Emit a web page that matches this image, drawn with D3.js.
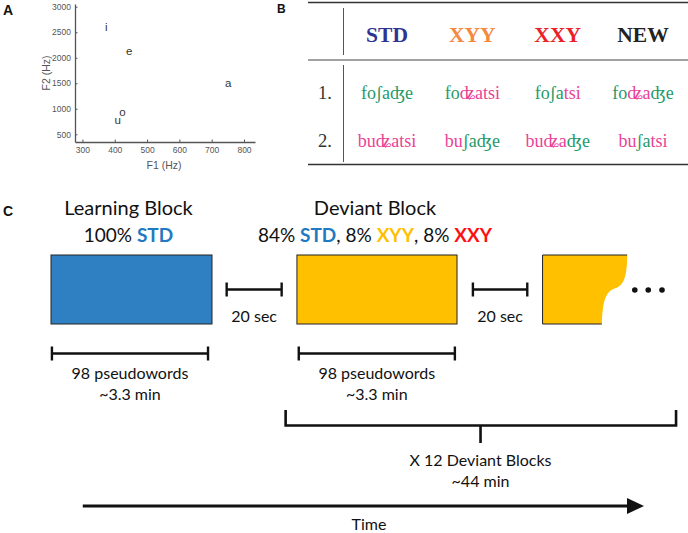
<!DOCTYPE html>
<html><head><meta charset="utf-8">
<script src="https://cdn.jsdelivr.net/npm/d3@7/dist/d3.min.js"></script>
<style>body{margin:0;background:#fff}svg{display:block}</style>
</head><body><svg id="fig" width="688" height="533"></svg>
<script>
// ---------- Panel A data ----------
const vowels = ["i", "e", "a", "o", "u"];
const F1 = [370, 435, 741, 414, 399];
const F2 = [2608, 2132, 1500, 935, 780];
const f1Ticks = [300, 400, 500, 600, 700, 800];
const f2Ticks = [500, 1000, 1500, 2000, 2500, 3000];

// ---------- Panel B data ----------
const conditions = ["STD", "XYY", "XXY", "NEW"];
const rowLabels = ["1.", "2."];
const greenSyll = ["fo", "ʃa", "ʤe"];
const pinkSyll = ["bu", "ʥa", "tsi"];
const row1 = [["fo","ʃa","ʤe"], ["fo","ʥa","tsi"], ["fo","ʃa","tsi"], ["fo","ʥa","ʤe"]];
const row2 = [["bu","ʥa","tsi"], ["bu","ʃa","ʤe"], ["bu","ʥa","ʤe"], ["bu","ʃa","tsi"]];

// ---------- Panel C data ----------
const blockNames = ["Learning Block", "Deviant Block"];
const learningMix = [["100% ", null], ["STD", "STD"]];
const deviantMix = [["84% ", null], ["STD", "STD"], [", 8% ", null], ["XYY", "XYY"], [", 8% ", null], ["XXY", "XXY"]];
const pseudowords = ["98 pseudowords", "98 pseudowords"];
const blockDur = ["~3.3 min", "~3.3 min"];
const gapLabel = ["20 sec", "20 sec"];
const repeatLabel = ["X 12 Deviant Blocks", "~44 min"];
const timeLabel = "Time";

const svg = d3.select("#fig");
const sans = "'Liberation Sans', Arial, sans-serif";
const cal = "Lato, 'Open Sans', sans-serif";
const serif = "'Liberation Serif', 'DejaVu Serif', serif";

// panel letters
[["A", 3, 15, 14], ["B", 277, 13, 12], ["C", 3, 216, 14]].forEach(([t, x, y, s]) => {
  svg.append("text").attr("x", x).attr("y", y).attr("font-family", sans)
    .attr("font-weight", "bold").attr("font-size", s).attr("fill", "#111").text(t);
});

// ---------- Panel A ----------
{
  const x = d3.scaleLinear().domain([277, 834]).range([75, 255]);
  const y = d3.scaleLinear().domain([349, 3053]).range([142, 4]);
  const g = svg.append("g");
  const ax = g.append("g").attr("transform", "translate(0,142)")
    .call(d3.axisBottom(x).tickValues(f1Ticks).tickFormat(d3.format("d")).tickSizeInner(-2.5).tickSizeOuter(0).tickPadding(5));
  const ay = g.append("g").attr("transform", "translate(75,0)")
    .call(d3.axisLeft(y).tickValues(f2Ticks).tickFormat(d3.format("d")).tickSizeInner(-2.5).tickSizeOuter(0).tickPadding(4));
  [ax, ay].forEach(a => {
    a.select(".domain").attr("stroke", "#555").attr("stroke-width", 1.3);
    a.selectAll(".tick line").attr("stroke", "#555");
    a.selectAll(".tick text").attr("fill", "#555").attr("font-size", 8.5).attr("font-family", sans);
  });
  g.append("text").attr("x", 164).attr("y", 169).attr("text-anchor", "middle")
    .attr("font-family", sans).attr("font-size", 10.5).attr("fill", "#555").text("F1 (Hz)");
  g.append("text").attr("transform", "translate(50,73) rotate(-90)").attr("text-anchor", "middle")
    .attr("font-family", sans).attr("font-size", 10.5).attr("fill", "#555").text("F2 (Hz)");
  g.selectAll("text.v").data(vowels).join("text").attr("class", "v")
    .attr("x", (d, i) => x(F1[i])).attr("y", (d, i) => y(F2[i]))
    .attr("dy", "0.35em").attr("font-family", sans).attr("font-size", 11.5).attr("fill", "#333")
    .text(d => d);
}

// ---------- Panel B ----------
{
  const g = svg.append("g");
  const cx = d3.scalePoint().domain(conditions).range([387, 643]);
  const ry = d3.scalePoint().domain(rowLabels).range([99, 147]);
  const headColor = {STD: "#2f3494", XYY: "#f5893f", XXY: "#ea1f2a", NEW: "#222"};
  const green = "#1f9a6a", pink = "#ea4296";
  g.append("line").attr("x1", 308).attr("x2", 688).attr("y1", 2.5).attr("y2", 2.5).attr("stroke", "#333").attr("stroke-width", 1.6);
  g.append("line").attr("x1", 308).attr("x2", 688).attr("y1", 60).attr("y2", 60).attr("stroke", "#444").attr("stroke-width", 1);
  g.append("line").attr("x1", 308).attr("x2", 688).attr("y1", 164.5).attr("y2", 164.5).attr("stroke", "#333").attr("stroke-width", 1.6);
  g.append("line").attr("x1", 343.5).attr("x2", 343.5).attr("y1", 8).attr("y2", 55).attr("stroke", "#555").attr("stroke-width", 1);
  g.append("line").attr("x1", 343.5).attr("x2", 343.5).attr("y1", 65).attr("y2", 162).attr("stroke", "#555").attr("stroke-width", 1);
  g.selectAll("text.h").data(conditions).join("text").attr("class", "h")
    .attr("x", d => cx(d)).attr("y", 42).attr("text-anchor", "middle")
    .attr("font-family", serif).attr("font-weight", "bold").attr("font-size", 21.5)
    .attr("fill", d => headColor[d]).text(d => d);
  g.selectAll("text.r").data(rowLabels).join("text").attr("class", "r")
    .attr("x", 325).attr("y", d => ry(d)).attr("text-anchor", "middle")
    .attr("font-family", serif).attr("font-size", 18.5).attr("fill", "#333").text(d => d);
  [row1, row2].forEach((row, ri) => {
    row.forEach((sy, ci) => {
      const t = g.append("text").attr("x", cx(conditions[ci])).attr("y", ry(rowLabels[ri]))
        .attr("text-anchor", "middle").attr("font-family", serif).attr("font-size", 18);
      sy.forEach(s => t.append("tspan").attr("fill", greenSyll.includes(s) ? green : pink).text(s));
    });
  });
}

// ---------- Panel C ----------
{
  const g = svg.append("g");
  const blue = "#2e80c2", yellow = "#ffc000", red = "#ff1010";
  const mixColor = {STD: "#2179c2", XYY: yellow, XXY: red};
  const x = d3.scaleLinear().domain([0, 100]).range([51, 662]);
  const blocks = [[0, 26.35], [40.25, 66.45]];
  const blockCenters = [128.5, 375];
  const top = 255, bot = 324;

  blockNames.forEach((n, i) => {
    g.append("text").attr("x", blockCenters[i]).attr("y", 215).attr("text-anchor", "middle")
      .attr("font-family", cal).attr("font-size", 20).attr("fill", "#111").text(n);
  });
  [learningMix, deviantMix].forEach((mix, i) => {
    const t = g.append("text").attr("x", blockCenters[i]).attr("y", 242).attr("text-anchor", "middle")
      .attr("font-family", cal).attr("font-size", 19).attr("fill", "#111");
    mix.forEach(([s, c]) => t.append("tspan").attr("font-weight", c ? "bold" : "normal")
      .attr("fill", c ? mixColor[c] : "#111").text(s));
  });

  g.append("rect").attr("x", x(blocks[0][0])).attr("y", top).attr("width", x(blocks[0][1]) - x(blocks[0][0]))
    .attr("height", bot - top).attr("fill", blue).attr("stroke", "#222").attr("stroke-width", 1);
  g.append("rect").attr("x", x(blocks[1][0])).attr("y", top).attr("width", x(blocks[1][1]) - x(blocks[1][0]))
    .attr("height", bot - top).attr("fill", yellow).attr("stroke", "#222").attr("stroke-width", 1);
  const x0 = x(80.45), xr = x(94.3), xb = x(90.15);
  const p = d3.path();
  p.moveTo(x0, top); p.lineTo(xr, top);
  p.bezierCurveTo(xr, top + 20, xr - 3, top + 30, xr - 11, top + 33);
  p.bezierCurveTo(xb + 5, top + 36, xb + 1, top + 42, xb, bot);
  p.lineTo(x0, bot); p.closePath();
  g.append("path").attr("d", p.toString()).attr("fill", yellow);
  g.append("path").attr("d", `M${xr},${top}H${x0}V${bot}H${xb}`).attr("fill", "none").attr("stroke", "#222").attr("stroke-width", 1);
  [95.55, 97.75, 100].forEach(d => g.append("circle").attr("cx", x(d)).attr("cy", 290).attr("r", 2.8).attr("fill", "#111"));

  function bar(x1, x2, y, h) {
    g.append("line").attr("x1", x1).attr("x2", x2).attr("y1", y).attr("y2", y).attr("stroke", "#111").attr("stroke-width", 2.6);
    [x1, x2].forEach(xx => g.append("line").attr("x1", xx).attr("x2", xx).attr("y1", y - h).attr("y2", y + h).attr("stroke", "#111").attr("stroke-width", 2.4));
  }
  const gaps = [[28.75, 37.75], [69.05, 77.95]];
  gaps.forEach((gp, i) => {
    bar(x(gp[0]), x(gp[1]), 289.5, 7);
    g.append("text").attr("x", (x(gp[0]) + x(gp[1])) / 2).attr("y", 322).attr("text-anchor", "middle")
      .attr("font-family", cal).attr("font-size", 16).attr("fill", "#111").text(gapLabel[i]);
  });
  const pw = [[0.15, 25.7], [40.55, 66.1]];
  pw.forEach((b, i) => {
    bar(x(b[0]), x(b[1]), 353.5, 7);
    const c = (x(b[0]) + x(b[1])) / 2;
    g.append("text").attr("x", c).attr("y", 379).attr("text-anchor", "middle")
      .attr("font-family", cal).attr("font-size", 16).attr("fill", "#111").text(pseudowords[i]);
    g.append("text").attr("x", c).attr("y", 400).attr("text-anchor", "middle")
      .attr("font-family", cal).attr("font-size", 16).attr("fill", "#111").text(blockDur[i]);
  });
  const bl = x(38.4), br = x(102.3), bm = x(70.3);
  g.append("path").attr("d", `M${bl},410V425.5H${br}V410M${bm},425.5V443`).attr("fill", "none")
    .attr("stroke", "#111").attr("stroke-width", 2.6);
  g.append("text").attr("x", bm).attr("y", 466).attr("text-anchor", "middle")
    .attr("font-family", cal).attr("font-size", 16).attr("fill", "#111").text(repeatLabel[0]);
  g.append("text").attr("x", bm).attr("y", 487).attr("text-anchor", "middle")
    .attr("font-family", cal).attr("font-size", 16).attr("fill", "#111").text(repeatLabel[1]);
  const ax0 = x(5.2), ax1 = x(97.05);
  g.append("line").attr("x1", ax0).attr("x2", ax1 - 14).attr("y1", 506).attr("y2", 506).attr("stroke", "#111").attr("stroke-width", 3);
  g.append("path").attr("d", `M${ax1},506L${ax1 - 17},498L${ax1 - 17},514Z`).attr("fill", "#111");
  g.append("text").attr("x", x(52.05)).attr("y", 530).attr("text-anchor", "middle")
    .attr("font-family", cal).attr("font-size", 16).attr("fill", "#111").text(timeLabel);
}
</script></body></html>
